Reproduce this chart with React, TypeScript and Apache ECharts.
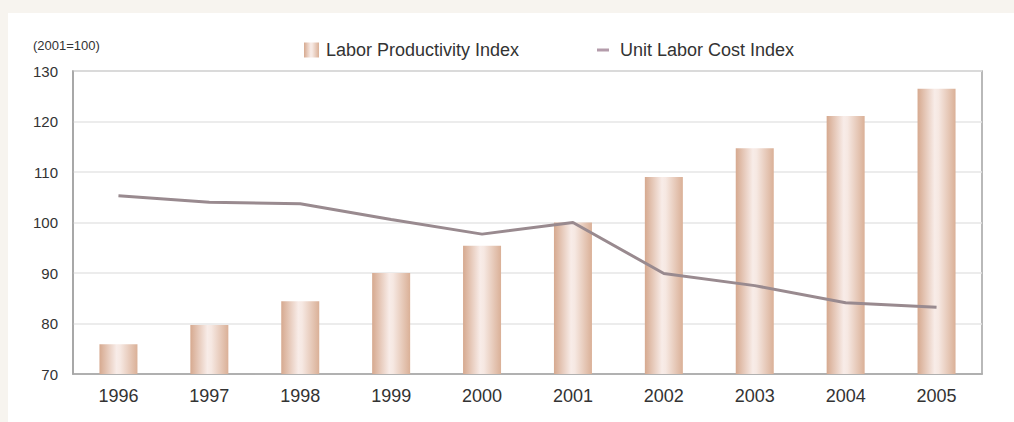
import React, { useEffect, useRef } from "react";
import * as echarts from "echarts";

const years = ["1996", "1997", "1998", "1999", "2000", "2001", "2002", "2003", "2004", "2005"];
const productivity = [75.9, 79.7, 84.4, 90.0, 95.4, 100.0, 109.0, 114.7, 121.1, 126.5];
const unitLaborCost = [105.3, 104.0, 103.7, 100.6, 97.7, 100.0, 89.9, 87.5, 84.1, 83.2];
const yTicks = { min: 70, max: 130, interval: 10 };

const FONT = "'Liberation Sans', Arial, Helvetica, sans-serif";

export default function App() {
  const ref = useRef<HTMLDivElement>(null);
  useEffect(() => {
    document.body.style.margin = "0";
    const chart = echarts.init(ref.current!, undefined, { renderer: "svg" });
    const barGrad = new echarts.graphic.LinearGradient(0, 0, 1, 0, [
      { offset: 0, color: "#d6a98f" },
      { offset: 0.45, color: "#f8ece8" },
      { offset: 0.55, color: "#f6e8e2" },
      { offset: 1, color: "#dab097" },
    ]);
    chart.setOption({
      animation: false,
      backgroundColor: "#f7f4ef",
      textStyle: { fontFamily: FONT },
      graphic: [
        {
          type: "rect",
          z: -10,
          shape: { x: 8, y: 13, width: 1006, height: 409 },
          style: { fill: "#ffffff" },
        },
        {
          type: "text",
          x: 33,
          y: 39,
          style: { text: "(2001=100)", font: `13px ${FONT}`, fill: "#333333" },
        },
      ],
      legend: [
        {
          left: 299,
          top: 36,
          itemWidth: 15,
          itemHeight: 15,
          data: [{ name: "Labor Productivity Index", icon: "rect" }],
          textStyle: { fontSize: 18, color: "#333333", padding: [0, 0, 0, 2], fontFamily: FONT },
        },
        {
          left: 592,
          top: 36,
          itemWidth: 12,
          itemHeight: 3,
          data: [{ name: "Unit Labor Cost Index", icon: "rect" }],
          itemStyle: { color: "#b49cab" },
          textStyle: { fontSize: 18, color: "#333333", padding: [0, 0, 0, 6], fontFamily: FONT },
        },
      ],
      grid: {
        left: 73,
        right: 32,
        top: 71,
        bottom: 48,
        show: true,
        borderColor: "#a3a3a3",
        borderWidth: 1.5,
        backgroundColor: "transparent",
      },
      xAxis: {
        type: "category",
        data: years,
        axisLine: { lineStyle: { color: "#a3a3a3", width: 1.5 } },
        axisTick: { inside: true, length: 4, lineStyle: { color: "#d0d0d0" } },
        axisLabel: { fontSize: 18, color: "#333333", margin: 13, fontFamily: FONT },
      },
      yAxis: {
        type: "value",
        min: yTicks.min,
        max: yTicks.max,
        interval: yTicks.interval,
        axisLine: { show: true, lineStyle: { color: "#a3a3a3", width: 1.5 } },
        axisTick: { show: false },
        axisLabel: { fontSize: 15, color: "#333333", margin: 15, fontFamily: FONT },
        splitLine: { lineStyle: { color: "#e6e6e6", width: 1.5 } },
      },
      series: [
        {
          name: "Labor Productivity Index",
          type: "bar",
          data: productivity,
          barWidth: 38,
          itemStyle: { color: barGrad },
        },
        {
          name: "Unit Labor Cost Index",
          type: "line",
          data: unitLaborCost,
          symbol: "none",
          lineStyle: { color: "#998a8f", width: 3 },
          itemStyle: { color: "#b49cab" },
          z: 3,
        },
      ],
    });
    return () => chart.dispose();
  }, []);
  return <div ref={ref} style={{ width: 1014, height: 422 }} />;
}
